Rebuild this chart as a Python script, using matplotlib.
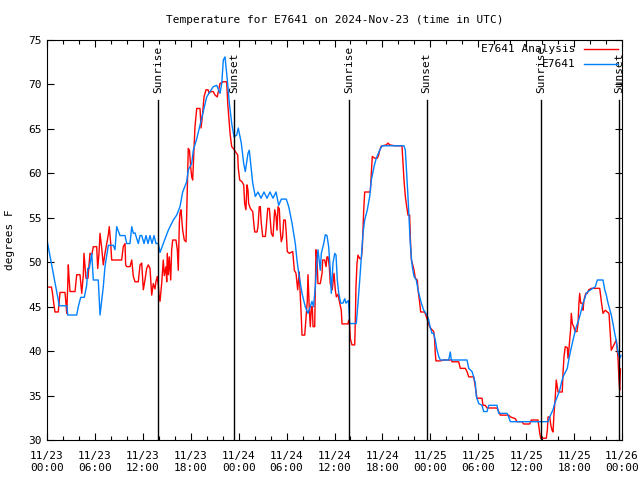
import numpy as np
import matplotlib
matplotlib.use("Agg")
import matplotlib.pyplot as plt
from matplotlib.ticker import MultipleLocator

# hours since 2024-11-23 00:00 UTC
obs_h = [0.0, 1.41, 1.5, 2.5, 2.59, 3.72, 3.92, 4.22, 4.67, 4.97, 5.1, 5.3, 5.6, 5.8,
         6.42, 6.64, 7.05, 7.26, 7.68, 8.3, 8.51, 8.73, 9.14, 9.77, 9.98, 10.39, 10.61,
         10.81, 11.02, 11.43, 11.65, 11.86, 12.15, 12.4, 12.65, 12.9, 13.15, 13.4, 13.65,
         13.94, 14.15, 14.56, 15.19, 15.82, 16.24, 16.65, 16.99, 17.49, 17.69, 18.12,
         18.32, 18.75, 19.16, 19.37, 20.0, 20.41, 20.82, 21.25, 21.66, 21.88, 22.08,
         22.29, 22.58, 22.83, 23.13, 23.42, 23.75, 23.95, 24.33, 24.63, 24.83, 25.17,
         25.33, 25.58, 25.76, 26.08, 26.42, 26.8, 27.17, 27.55, 27.92, 28.3, 28.68,
         29.01, 29.34, 29.96, 30.27, 30.68, 31.09, 31.3, 31.52, 31.93, 32.34, 32.68,
         32.97, 33.18, 33.37, 33.6, 33.81, 33.93, 34.22, 34.35, 34.65, 34.85, 35.06,
         35.27, 35.47, 35.6, 35.81, 36.03, 36.19, 36.35, 36.53, 36.78, 37.06, 37.28,
         37.44, 37.75, 37.9, 38.73, 38.94, 39.16, 39.36, 39.57, 39.78, 40.11, 40.41,
         40.61, 40.95, 41.23, 41.66, 41.95, 44.7, 44.87, 45.04, 45.2, 45.33, 45.49,
         45.62, 45.74, 45.96, 46.24, 46.46, 46.67, 46.87, 47.17, 47.58, 47.8, 48.0,
         48.21, 48.42, 48.62, 48.84, 49.05, 49.25, 50.3, 50.5, 50.63, 52.59, 52.81,
         53.22, 53.43, 53.63, 53.76, 54.06, 54.47, 54.68, 55.1, 55.31, 56.35, 56.56,
         57.6, 57.81, 58.02, 62.74, 62.95, 63.15, 63.36, 63.57, 63.9, 64.2, 64.4,
         64.61, 64.83, 65.15, 65.33, 65.58, 65.87, 66.08, 66.28, 66.58, 66.91, 67.12,
         67.33, 67.53, 67.74, 68.08, 68.37, 68.66, 68.91, 69.62, 69.84, 70.04, 70.25,
         70.66, 70.87, 71.09, 71.29, 71.5, 71.71, 71.87]
obs_t = [52.5, 45.75, 45.1, 45.1, 44.06, 44.06, 45.0, 46.05, 46.05, 47.4, 49.3, 49.3,
         51.0, 48.0, 48.0, 44.06, 47.25, 49.5, 51.9, 51.9, 51.4, 54.0, 53.0, 53.0, 52.1,
         52.1, 54.0, 53.25, 53.3, 52.1, 53.0, 53.0, 52.1, 53.0, 52.1, 53.0, 52.1, 53.0,
         52.1, 52.1, 51.1, 52.1, 53.6, 54.75, 55.3, 56.25, 57.9, 59.05, 60.4, 61.1,
         62.6, 63.9, 65.4, 66.2, 68.6, 69.2, 69.75, 69.9, 69.0, 70.1, 72.75, 73.1,
         70.5, 67.9, 65.6, 64.1, 64.3, 65.1, 63.4, 61.1, 60.2, 62.25, 62.6, 60.4, 58.9,
         57.4, 57.9, 57.2, 57.9, 57.2, 57.9, 57.2, 57.9, 56.4, 57.1, 57.1, 56.25, 54.4,
         52.1, 50.25, 48.75, 46.5, 45.0, 44.25, 45.0, 45.6, 45.0, 47.25, 50.25, 51.4,
         49.1, 51.0, 52.1, 53.1, 53.0, 51.75, 49.1, 46.5, 49.9, 51.0, 50.8, 48.0, 46.5,
         45.4, 45.4, 45.9, 45.4, 45.7, 43.1, 43.1, 45.4, 48.0, 50.6, 53.25, 54.75, 55.9,
         57.4, 59.25, 60.75, 61.7, 62.6, 63.1, 63.1, 62.6, 60.0, 57.4, 55.1, 52.1, 50.6,
         49.5, 48.4, 48.0, 46.9, 46.1, 45.4, 44.6, 44.06, 43.5, 42.6, 42.0, 42.0, 41.25,
         40.1, 39.4, 39.0, 39.0, 39.9, 39.0, 39.0, 38.06, 37.7, 37.1, 36.4, 34.9, 34.1,
         33.9, 33.2, 33.2, 33.9, 33.9, 33.0, 33.0, 32.6, 32.06, 32.06, 32.6, 33.0, 33.4,
         34.1, 34.9, 35.6, 36.4, 37.1, 37.5, 38.06, 39.0, 40.1, 41.25, 42.0, 42.75, 43.5,
         44.6, 45.4, 45.9, 46.5, 46.7, 46.9, 47.06, 47.25, 48.0, 48.0, 46.9, 46.3, 45.4,
         44.06, 43.1, 42.0, 41.1, 39.9, 39.2, 39.5]

ana_h = [0.0, 0.56, 0.66, 0.79, 1.0, 1.41, 1.63, 2.25, 2.34, 2.47, 2.59, 2.67, 2.75,
         2.88, 3.51, 3.72, 4.13, 4.35, 4.55, 4.63, 4.76, 4.88, 5.13, 5.38, 5.6, 5.8,
         6.22, 6.35, 6.51, 6.64, 6.85, 7.05, 7.26, 7.48, 7.68, 7.8, 7.98, 8.1, 9.35,
         9.55, 9.77, 9.85, 9.98, 10.39, 10.61, 10.81, 11.02, 11.43, 11.65, 11.86, 12.06,
         12.27, 12.48, 12.68, 12.9, 13.11, 13.31, 13.52, 13.64, 13.81, 13.94, 14.02,
         14.15, 14.36, 14.56, 14.69, 14.9, 14.99, 15.06, 15.19, 15.31, 15.49, 15.61,
         15.74, 16.15, 16.32, 16.44, 16.57, 16.65, 16.78, 16.99, 17.19, 17.41, 17.57,
         17.69, 17.84, 17.99, 18.12, 18.24, 18.41, 18.53, 18.75, 19.16, 19.29, 19.45,
         19.66, 19.91, 20.16, 20.29, 20.5, 20.82, 21.04, 21.32, 21.66, 22.08, 22.5,
         22.63, 22.7, 22.92, 23.13, 23.33, 23.63, 23.88, 23.95, 24.13, 24.42, 24.63,
         24.75, 24.91, 25.04, 25.17, 25.25, 25.46, 25.76, 25.89, 26.01, 26.3, 26.42,
         26.58, 26.71, 26.83, 27.01, 27.34, 27.46, 27.64, 27.84, 27.96, 28.09, 28.3,
         28.43, 28.51, 28.68, 28.8, 28.93, 29.09, 29.21, 29.34, 29.51, 29.64, 29.84,
         29.96, 30.09, 30.34, 30.77, 30.97, 31.18, 31.39, 31.59, 31.72, 31.84, 31.93,
         32.27, 32.43, 32.59, 32.68, 32.85, 32.97, 33.1, 33.22, 33.31, 33.52, 33.6,
         33.68, 33.81, 33.93, 34.22, 34.44, 34.52, 34.77, 34.94, 35.06, 35.19, 35.35,
         35.47, 35.72, 35.94, 36.1, 36.23, 36.44, 36.65, 36.85, 36.94, 37.69, 37.78,
         37.88, 37.98, 38.19, 38.53, 38.6, 38.69, 38.82, 38.94, 39.16, 39.36, 39.48,
         39.66, 39.78, 40.19, 40.48, 40.61, 40.73, 41.03, 41.36, 41.53, 41.66, 41.86,
         42.48, 42.7, 42.91, 43.54, 44.45, 44.58, 44.7, 44.87, 45.04, 45.2, 45.41,
         45.49, 45.62, 45.74, 45.96, 46.12, 46.37, 46.46, 46.67, 46.79, 47.29, 47.49,
         47.7, 47.91, 48.21, 48.42, 48.54, 48.62, 48.7, 49.25, 49.67, 50.63, 50.71,
         51.55, 51.75, 52.38, 52.59, 52.81, 53.43, 53.56, 53.72, 53.84, 54.47, 54.59,
         54.88, 55.1, 56.35, 56.56, 56.76, 57.81, 58.02, 58.64, 58.85, 59.48, 59.69,
         60.44, 60.64, 61.48, 61.7, 61.82, 62.52, 62.65, 62.74, 62.95, 63.08, 63.24,
         63.36, 63.49, 63.65, 63.77, 63.9, 63.99, 64.52, 64.61, 64.74, 64.9, 65.15,
         65.24, 65.36, 65.58, 65.65, 65.78, 65.95, 66.15, 66.36, 66.49, 66.61, 66.7,
         66.83, 67.03, 67.12, 67.24, 67.46, 67.66, 67.83, 68.16, 69.21, 69.41, 69.62,
         69.91, 70.16, 70.37, 70.5, 70.66, 70.87, 71.09, 71.29, 71.41, 71.5, 71.62,
         71.71, 71.8]
ana_t = [47.2, 47.2, 46.7, 45.75, 44.4, 44.4, 46.6, 46.6, 45.75, 44.25, 47.25, 49.7,
         48.4, 46.7, 46.7, 48.6, 48.6, 46.5, 48.6, 51.0, 49.5, 48.2, 48.2, 51.0, 50.8,
         51.75, 51.75, 49.3, 51.0, 53.25, 51.6, 49.7, 51.0, 52.1, 53.1, 54.0, 52.1,
         50.25, 50.25, 51.75, 52.1, 49.7, 49.5, 49.5, 50.25, 48.4, 47.8, 47.8, 49.7,
         49.9, 46.9, 48.0, 49.3, 49.7, 49.3, 46.3, 47.6, 47.0, 47.8, 48.4, 47.4, 46.3,
         45.6, 47.6, 50.25, 48.5, 49.5, 47.8, 51.0, 48.6, 50.6, 48.0, 51.4, 52.5, 52.5,
         51.4, 49.1, 54.4, 55.5, 55.9, 53.6, 52.5, 52.3, 58.1, 62.8, 62.6, 60.75, 59.6,
         59.25, 62.8, 65.25, 67.3, 67.3, 65.1, 66.4, 68.6, 69.4, 69.4, 69.0, 69.2, 69.2,
         68.8, 68.6, 70.1, 70.3, 70.3, 67.9, 67.1, 64.5, 63.0, 62.8, 62.4, 62.06, 60.6,
         59.25, 59.05, 58.7, 56.6, 55.9, 58.7, 58.1, 56.6, 56.06, 55.7, 54.4, 53.4, 53.4,
         54.0, 56.25, 56.25, 54.4, 52.9, 52.9, 54.0, 56.06, 56.06, 54.75, 53.25, 52.9,
         54.75, 55.9, 55.2, 53.6, 56.25, 56.0, 53.6, 52.3, 52.9, 54.75, 54.75, 53.25,
         51.2, 51.0, 51.2, 49.1, 48.75, 46.9, 48.9, 46.1, 43.9, 41.8, 41.8, 43.7, 45.6,
         48.6, 44.6, 42.75, 45.0, 45.0, 42.75, 42.75, 46.9, 51.4, 50.25, 47.6, 47.6,
         48.75, 50.25, 50.25, 49.5, 50.6, 50.6, 49.5, 47.6, 46.9, 48.75, 46.9, 46.1,
         46.4, 45.4, 44.6, 43.06, 43.06, 43.5, 43.1, 41.4, 40.7, 40.7, 43.1, 47.25, 49.9,
         50.8, 50.4, 50.4, 51.6, 55.9, 57.9, 57.9, 57.9, 60.0, 61.9, 61.7, 61.7, 62.06,
         62.6, 63.06, 63.2, 63.4, 63.2, 63.1, 63.1, 61.1, 59.25, 57.4, 56.25, 55.3, 55.3,
         52.9, 50.25, 49.9, 49.1, 48.2, 48.0, 46.9, 45.4, 44.4, 44.4, 43.9, 43.3, 42.75,
         42.4, 42.2, 41.25, 39.75, 38.9, 38.9, 39.0, 39.0, 38.8, 38.8, 38.06, 38.06, 37.7,
         37.1, 37.1, 36.4, 35.4, 34.7, 34.7, 33.9, 33.9, 33.6, 33.6, 33.2, 32.8, 32.8,
         32.6, 32.4, 32.06, 32.06, 31.8, 31.8, 32.25, 32.25, 30.75, 30.2, 30.2, 31.1,
         32.6, 32.6, 31.7, 31.1, 30.9, 33.0, 34.9, 36.75, 36.0, 35.4, 35.4, 37.5, 39.4,
         40.5, 40.4, 39.2, 40.3, 42.6, 44.25, 43.1, 42.75, 42.2, 42.2, 43.1, 45.4, 46.5,
         45.4, 45.4, 44.6, 45.75, 46.5, 46.5, 46.9, 47.06, 47.06, 45.6, 44.25, 44.6, 44.4,
         44.25, 42.4, 40.1, 40.5, 40.9, 41.25, 40.1, 39.2, 36.75, 35.6, 38.0]

sun_h = [13.9, 23.45, 37.85, 47.55, 61.86, 71.68]
sun_lbl = ["Sunrise", "Sunset", "Sunrise", "Sunset", "Sunrise", "Sunset"]

tick_h = list(range(0, 73, 6))
tick_lbl = ["11/23\n00:00", "11/23\n06:00", "11/23\n12:00", "11/23\n18:00",
            "11/24\n00:00", "11/24\n06:00", "11/24\n12:00", "11/24\n18:00",
            "11/25\n00:00", "11/25\n06:00", "11/25\n12:00", "11/25\n18:00",
            "11/26\n00:00"]

plt.rcParams["font.family"] = "DejaVu Sans Mono"
plt.rcParams["font.size"] = 8

fig = plt.figure(figsize=(6.4, 4.8), dpi=100)
ax = fig.add_axes([47 / 640, 40 / 480, 575 / 640, 400 / 480])

ax.plot(ana_h, ana_t, color="#ff0000", lw=1.0, label="E7641 Analysis")
ax.plot(obs_h, obs_t, color="#0080ff", lw=1.0, label="E7641")

for h, lbl in zip(sun_h, sun_lbl):
    ax.plot([h, h], [30, 68.3], color="black", lw=1.0)
    ax.text(h, 69.0, lbl, rotation=90, ha="center", va="bottom", fontsize=8)

ax.set_xlim(0, 72)
ax.set_ylim(30, 75)
ax.set_xticks(tick_h)
ax.set_xticklabels(tick_lbl)
ax.xaxis.set_minor_locator(MultipleLocator(2))
ax.yaxis.set_major_locator(MultipleLocator(5))
ax.tick_params(which="both", direction="in", top=True, right=True, length=5, width=0.8)
ax.tick_params(which="minor", length=3)
ax.tick_params(axis="x", pad=8)

ax.set_title("Temperature for E7641 on 2024-Nov-23 (time in UTC)", fontsize=8, pad=12)
ax.set_ylabel("degrees F", fontsize=8, labelpad=10)

ax.legend(loc="upper right", frameon=False, markerfirst=False, handlelength=3.0,
          borderaxespad=0.1, borderpad=0.3, labelspacing=0.45, handletextpad=0.8,
          fontsize=8)

fig.savefig("out.png", dpi=100)
